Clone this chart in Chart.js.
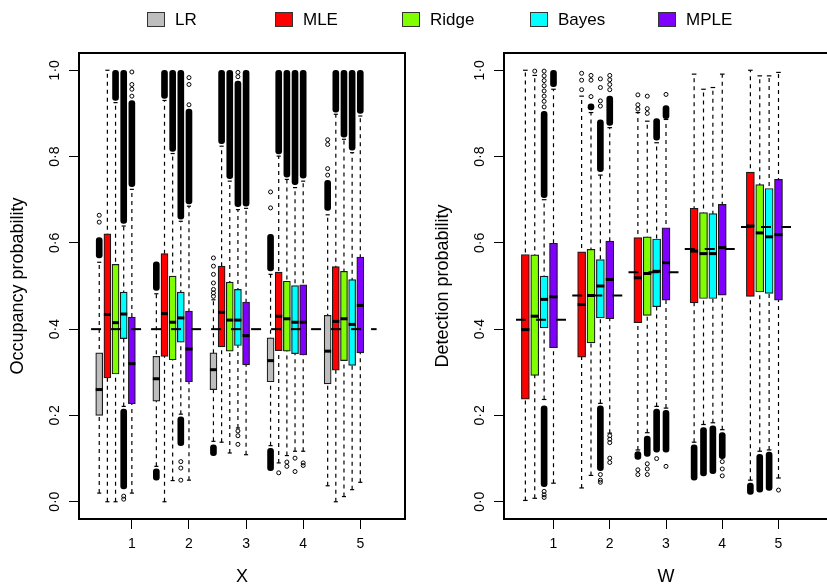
<!DOCTYPE html>
<html>
<head>
<meta charset="utf-8">
<script src="https://cdn.jsdelivr.net/npm/chart.js@4.4.1/dist/chart.umd.min.js"></script>
<style>
html,body{margin:0;padding:0;background:#fff;overflow:hidden;width:827px;height:584px;}
#wrap{position:relative;width:827px;height:584px;overflow:hidden;font-family:'Liberation Sans',Arial,Helvetica,sans-serif;color:#000;}
canvas{position:absolute;top:0;}
#c1{left:0;}
#c2{left:425px;}
.sw{position:absolute;top:12px;width:16px;height:13px;border:1px solid #333;}
.lt{position:absolute;top:10px;font-size:17px;line-height:20px;white-space:nowrap;}
</style>
</head>
<body>
<div id="wrap">
  <canvas id="c1" width="412" height="588"></canvas>
  <canvas id="c2" width="410" height="588"></canvas>
  <div id="legend"></div>
</div>
<script>
// ---------------- data ----------------
const methods = ['LR', 'MLE', 'Ridge', 'Bayes', 'MPLE'];
const methodColors = ['#BEBEBE', '#FF0000', '#80FF00', '#00FFFF', '#8000FF'];
const groupLabels = ['1', '2', '3', '4', '5'];
const yTickValues = [0, 0.2, 0.4, 0.6, 0.8, 1.0];
const yTickLabels = ['0·0', '0·2', '0·4', '0·6', '0·8', '1·0'];

// Occupancy panel (X): per group [lower whisker, Q1, median, Q3, upper whisker]
const occLR = [
  [0.020, 0.200, 0.260, 0.345, 0.555],
  [0.082, 0.233, 0.285, 0.337, 0.482],
  [0.140, 0.260, 0.306, 0.345, 0.468],
  [0.130, 0.278, 0.327, 0.380, 0.527],
  [0.037, 0.273, 0.349, 0.432, 0.665]
];
const occMLE = [
  [0.000, 0.287, 0.434, 0.621, 1.000],
  [0.000, 0.337, 0.436, 0.575, 0.930],
  [0.138, 0.359, 0.439, 0.546, 0.824],
  [0.090, 0.350, 0.430, 0.532, 0.801],
  [0.000, 0.305, 0.418, 0.545, 0.898]
];
const occRidge = [
  [0.000, 0.296, 0.415, 0.550, 0.925],
  [0.049, 0.329, 0.416, 0.523, 0.807],
  [0.113, 0.349, 0.421, 0.509, 0.743],
  [0.107, 0.349, 0.424, 0.511, 0.747],
  [0.012, 0.327, 0.424, 0.534, 0.840]
];
const occBayes = [
  [0.221, 0.378, 0.435, 0.486, 0.639],
  [0.203, 0.370, 0.426, 0.486, 0.650],
  [0.171, 0.362, 0.421, 0.492, 0.677],
  [0.117, 0.343, 0.416, 0.501, 0.728],
  [0.028, 0.316, 0.411, 0.515, 0.809]
];
const occMPLE = [
  [0.020, 0.227, 0.320, 0.428, 0.724],
  [0.050, 0.278, 0.354, 0.442, 0.685],
  [0.109, 0.317, 0.385, 0.463, 0.680],
  [0.117, 0.340, 0.416, 0.503, 0.743],
  [0.045, 0.345, 0.455, 0.567, 0.894]
];
const occTrue = 0.4;
// dense runs of outliers: [method, group, from, to]
const occBands = [
  ['LR', 1, 0.565, 0.612], ['LR', 2, 0.490, 0.556], ['LR', 2, 0.050, 0.076], ['LR', 3, 0.107, 0.132],
  ['LR', 4, 0.535, 0.620], ['LR', 4, 0.072, 0.124], ['LR', 5, 0.675, 0.745],
  ['MLE', 2, 0.935, 1.0], ['MLE', 3, 0.830, 1.0], ['MLE', 4, 0.806, 1.0], ['MLE', 5, 0.903, 1.0],
  ['Ridge', 1, 0.930, 1.0], ['Ridge', 2, 0.812, 1.0], ['Ridge', 3, 0.749, 1.0], ['Ridge', 4, 0.752, 1.0], ['Ridge', 5, 0.845, 1.0],
  ['Bayes', 1, 0.645, 1.0], ['Bayes', 1, 0.030, 0.215], ['Bayes', 2, 0.655, 1.0], ['Bayes', 2, 0.130, 0.197],
  ['Bayes', 3, 0.684, 0.975], ['Bayes', 4, 0.735, 1.0], ['Bayes', 5, 0.815, 1.0],
  ['MPLE', 1, 0.730, 0.930], ['MPLE', 2, 0.690, 0.910], ['MPLE', 3, 0.685, 1.0], ['MPLE', 4, 0.750, 1.0], ['MPLE', 5, 0.900, 1.0]
];
// single outliers: [method, group, value]
const occPoints = [
  ['LR', 1, 0.648], ['LR', 1, 0.664],
  ['LR', 3, 0.476], ['LR', 3, 0.484], ['LR', 3, 0.492], ['LR', 3, 0.507], ['LR', 3, 0.527], ['LR', 3, 0.546], ['LR', 3, 0.565],
  ['LR', 4, 0.681], ['LR', 4, 0.718],
  ['LR', 5, 0.757], ['LR', 5, 0.772], ['LR', 5, 0.828], ['LR', 5, 0.839],
  ['MLE', 4, 0.067],
  ['Ridge', 4, 0.092], ['Ridge', 4, 0.082],
  ['Bayes', 1, 0.013], ['Bayes', 1, 0.006],
  ['Bayes', 2, 0.093], ['Bayes', 2, 0.078], ['Bayes', 2, 0.050],
  ['Bayes', 3, 0.164], ['Bayes', 3, 0.153], ['Bayes', 3, 0.133], ['Bayes', 3, 0.985], ['Bayes', 3, 0.995],
  ['Bayes', 4, 0.101], ['Bayes', 4, 0.070],
  ['MPLE', 1, 0.940], ['MPLE', 1, 0.956], ['MPLE', 1, 0.967], ['MPLE', 1, 0.996],
  ['MPLE', 2, 0.920], ['MPLE', 2, 0.967], ['MPLE', 2, 0.983],
  ['MPLE', 4, 0.090], ['MPLE', 4, 0.084]
];

// Detection panel (W)
const detMLE = [
  [0.003, 0.238, 0.399, 0.573, 1.000],
  [0.032, 0.335, 0.457, 0.579, 0.940],
  [0.120, 0.415, 0.519, 0.612, 0.902],
  [0.138, 0.461, 0.581, 0.680, 0.991],
  [0.050, 0.476, 0.639, 0.764, 1.000]
];
const detRidge = [
  [0.008, 0.293, 0.430, 0.572, 0.988],
  [0.061, 0.368, 0.478, 0.585, 0.902],
  [0.160, 0.432, 0.529, 0.614, 0.882],
  [0.179, 0.471, 0.575, 0.670, 0.956],
  [0.117, 0.486, 0.623, 0.735, 0.987]
];
const detBayes = [
  [0.237, 0.403, 0.469, 0.523, 0.700],
  [0.228, 0.426, 0.500, 0.561, 0.757],
  [0.221, 0.452, 0.534, 0.609, 0.832],
  [0.183, 0.471, 0.575, 0.668, 0.960],
  [0.120, 0.483, 0.614, 0.726, 0.987]
];
const detMPLE = [
  [0.043, 0.357, 0.475, 0.599, 0.956],
  [0.159, 0.424, 0.515, 0.604, 0.867],
  [0.217, 0.467, 0.554, 0.635, 0.886],
  [0.167, 0.479, 0.589, 0.689, 0.991],
  [0.055, 0.467, 0.619, 0.747, 0.995]
];
const detTrue = [0.422, 0.478, 0.532, 0.586, 0.637];
const detBands = [
  ['MPLE', 1, 0.962, 1.0], ['Bayes', 1, 0.705, 0.905], ['Bayes', 1, 0.035, 0.222],
  ['Ridge', 2, 0.908, 0.922], ['Bayes', 2, 0.765, 0.885], ['Bayes', 2, 0.072, 0.222], ['MPLE', 2, 0.872, 0.940],
  ['MLE', 3, 0.098, 0.116], ['Ridge', 3, 0.105, 0.152], ['Bayes', 3, 0.838, 0.888], ['Bayes', 3, 0.115, 0.215],
  ['MPLE', 3, 0.888, 0.918], ['MPLE', 3, 0.115, 0.212],
  ['MLE', 4, 0.050, 0.132], ['Ridge', 4, 0.060, 0.172], ['Bayes', 4, 0.065, 0.176], ['MPLE', 4, 0.100, 0.160],
  ['MLE', 5, 0.017, 0.043], ['Ridge', 5, 0.022, 0.110], ['Bayes', 5, 0.026, 0.115]
];
const detPoints = [
  ['Ridge', 1, 0.998],
  ['Bayes', 1, 0.915], ['Bayes', 1, 0.928], ['Bayes', 1, 0.940], ['Bayes', 1, 0.952], ['Bayes', 1, 0.964],
  ['Bayes', 1, 0.976], ['Bayes', 1, 0.987], ['Bayes', 1, 0.998],
  ['Bayes', 1, 0.024], ['Bayes', 1, 0.016], ['Bayes', 1, 0.010],
  ['MLE', 2, 0.955], ['MLE', 2, 0.977], ['MLE', 2, 0.993],
  ['Ridge', 2, 0.939], ['Ridge', 2, 0.977], ['Ridge', 2, 0.988],
  ['Bayes', 2, 0.917], ['Bayes', 2, 0.929], ['Bayes', 2, 0.960], ['Bayes', 2, 0.980],
  ['Bayes', 2, 0.063], ['Bayes', 2, 0.050], ['Bayes', 2, 0.045],
  ['MPLE', 2, 0.955], ['MPLE', 2, 0.967], ['MPLE', 2, 0.978], ['MPLE', 2, 0.988],
  ['MPLE', 2, 0.153], ['MPLE', 2, 0.145], ['MPLE', 2, 0.137], ['MPLE', 2, 0.101], ['MPLE', 2, 0.091],
  ['MLE', 3, 0.910], ['MLE', 3, 0.920], ['MLE', 3, 0.943], ['MLE', 3, 0.074], ['MLE', 3, 0.063],
  ['Ridge', 3, 0.900], ['Ridge', 3, 0.911], ['Ridge', 3, 0.940], ['Ridge', 3, 0.088], ['Ridge', 3, 0.076], ['Ridge', 3, 0.063],
  ['Bayes', 3, 0.100],
  ['MPLE', 3, 0.944], ['MPLE', 3, 0.082],
  ['MPLE', 4, 0.093], ['MPLE', 4, 0.076], ['MPLE', 4, 0.060],
  ['MPLE', 5, 0.027]
];

// ---------------- legend (HTML text) ----------------
const legendX = [147, 275, 402, 530, 658];
const legendEl = document.getElementById('legend');
methods.forEach((m, i) => {
  const sw = document.createElement('div');
  sw.className = 'sw';
  sw.style.left = legendX[i] + 'px';
  sw.style.background = methodColors[i];
  legendEl.appendChild(sw);
  const t = document.createElement('div');
  t.className = 'lt';
  t.style.left = (legendX[i] + 28) + 'px';
  t.textContent = m;
  legendEl.appendChild(t);
});

// ---------------- chart building ----------------
const FONT = "'Liberation Sans', Arial, Helvetica, sans-serif";

function buildDatasets(panelMethods, stats, bands, points, step, boxPx, trueLine) {
  const colorOf = m => methodColors[methods.indexOf(m)];
  const pos = (mi, g) => 1 + step * g + mi;
  const whisk = [], caps = [], meds = [];
  const boxSets = panelMethods.map(m => ({ m, data: [] }));
  for (let g = 0; g < groupLabels.length; g++) {
    panelMethods.forEach((m, mi) => {
      const [lo, q1, md, q3, hi] = stats[mi][g];
      const p = pos(mi, g);
      whisk.push({ x: p, y: lo }, { x: p, y: hi }, { x: p, y: null });
      caps.push({ x: p, y: lo }, { x: p, y: hi });
      meds.push({ x: p, y: md });
      boxSets[mi].data.push({ x: p, y: [q1, q3] });
    });
  }
  const bandData = bands.map(([m, g, a, b]) => ({ x: pos(panelMethods.indexOf(m), g - 1), y: [a, b] }))
    .sort((u, v) => u.x - v.x);
  const ptData = points.map(([m, g, v]) => ({ x: pos(panelMethods.indexOf(m), g - 1), y: v }))
    .sort((u, v) => u.x - v.x);

  const ds = [];
  ds.push({
    type: 'line', data: whisk, borderColor: '#000', borderWidth: 1.2, borderDash: [4, 4],
    pointRadius: 0, spanGaps: false, fill: false, order: 10
  });
  boxSets.forEach(b => ds.push({
    type: 'bar', label: b.m, data: b.data, backgroundColor: colorOf(b.m), borderColor: '#1a1a1a',
    borderWidth: 1.2, borderSkipped: false, barThickness: boxPx, grouped: false, order: 8
  }));
  ds.push({
    type: 'scatter', data: caps, pointStyle: 'line', pointRadius: boxPx / 4 + 0.3, pointHoverRadius: 0,
    pointBorderColor: '#000', borderColor: '#000', pointBorderWidth: 1.2, borderWidth: 1.2, order: 7
  });
  ds.push({
    type: 'bar', data: bandData, backgroundColor: '#000', borderColor: '#000', borderWidth: 0,
    borderSkipped: false, borderRadius: 3, barThickness: 6, grouped: false, order: 6
  });
  ds.push({
    type: 'scatter', data: ptData, pointStyle: 'circle', pointRadius: 2, pointBorderWidth: 1,
    pointBorderColor: '#000', pointBackgroundColor: 'rgba(0,0,0,0)', borderColor: '#000', order: 5
  });
  ds.push({
    type: 'scatter', data: meds, pointStyle: 'line', pointRadius: boxPx / 2, pointBorderWidth: 3,
    pointBorderColor: '#000', borderColor: '#000', borderWidth: 3, order: 3
  });
  ds.push({
    type: 'line', data: trueLine, borderColor: '#000', borderWidth: 2, borderDash: [10, 10],
    pointRadius: 0, spanGaps: false, fill: false, order: 1
  });
  return ds;
}

const framePlugin = {
  id: 'frame',
  afterDraw(chart) {
    const { ctx, chartArea: a, scales } = chart;
    ctx.save();
    ctx.strokeStyle = '#000';
    ctx.lineWidth = 2;
    ctx.strokeRect(a.left, a.top, a.right - a.left, a.bottom - a.top);
    // y tick labels, written parallel to the axis
    ctx.fillStyle = '#000';
    ctx.font = '14px ' + FONT;
    ctx.textAlign = 'center';
    ctx.textBaseline = 'middle';
    yTickValues.forEach((v, i) => {
      const y = scales.y.getPixelForValue(v);
      ctx.save();
      ctx.translate(a.left - 24, y);
      ctx.rotate(-Math.PI / 2);
      ctx.fillText(yTickLabels[i], 0, 0);
      ctx.restore();
    });
    ctx.restore();
  }
};

function makeChart(canvasId, datasets, xMin, xMax, tickPos, xTitle, yTitle, padRight) {
  return new Chart(document.getElementById(canvasId), {
    type: 'bar',
    data: { datasets },
    plugins: [framePlugin],
    options: {
      responsive: false, animation: false, devicePixelRatio: 1, events: [],
      layout: { padding: { top: 53, right: padRight, left: 0, bottom: 0 } },
      plugins: { legend: { display: false }, tooltip: { enabled: false } },
      scales: {
        x: {
          type: 'linear', min: xMin, max: xMax, offset: false,
          grid: { display: true, drawOnChartArea: false, drawTicks: true, tickLength: 10,
                  color: '#000', tickColor: '#000', lineWidth: 1, offset: false },
          border: { display: false },
          afterBuildTicks: s => { s.ticks = tickPos.map(v => ({ value: v })); },
          afterFit: s => { s.height = 69; },
          ticks: {
            autoSkip: false, maxRotation: 0, minRotation: 0, padding: 7, color: '#000',
            font: { family: FONT, size: 14 },
            callback: (v, i) => groupLabels[i]
          },
          title: { display: true, text: xTitle, color: '#000', font: { family: FONT, size: 18 },
                   padding: { top: 0, bottom: 0 } }
        },
        y: {
          type: 'linear', min: -0.04, max: 1.04,
          grid: { display: true, drawOnChartArea: false, drawTicks: true, tickLength: 10,
                  color: '#000', tickColor: '#000', lineWidth: 1 },
          border: { display: false },
          afterBuildTicks: s => { s.ticks = yTickValues.map(v => ({ value: v })); },
          afterFit: s => { s.width = 79; },
          ticks: { display: false },
          title: { display: true, text: yTitle, color: '#000', font: { family: FONT, size: 18 },
                   padding: { top: 7, bottom: 0 } }
        }
      }
    }
  });
}

// Left panel: 5 methods per group, groups 7 positions apart
const occMethods = ['LR', 'MLE', 'Ridge', 'Bayes', 'MPLE'];
const occStats = [occLR, occMLE, occRidge, occBayes, occMPLE];
const occTrueLine = [{ x: 0, y: occTrue }, { x: 35, y: occTrue }];
const occTicks = groupLabels.map((_, g) => 1 + 7 * g + 4);
makeChart('c1', buildDatasets(occMethods, occStats, occBands, occPoints, 7, 7, occTrueLine),
  -1.48, 38.48, occTicks, 'X', 'Occupancy probability', 4);

// Right panel: 4 methods per group, groups 6 positions apart
const detMethods = ['MLE', 'Ridge', 'Bayes', 'MPLE'];
const detStats = [detMLE, detRidge, detBayes, detMPLE];
const detTrueLine = [];
detTrue.forEach((t, g) => { detTrueLine.push({ x: 6 * g, y: t }, { x: 6 * g + 6, y: t }, { x: 6 * g + 6, y: null }); });
const detTicks = groupLabels.map((_, g) => 1 + 6 * g + 3);
makeChart('c2', buildDatasets(detMethods, detStats, detBands, detPoints, 6, 8, detTrueLine),
  -1.28, 33.28, detTicks, 'W', 'Detection probability', 3);
</script>
</body>
</html>
